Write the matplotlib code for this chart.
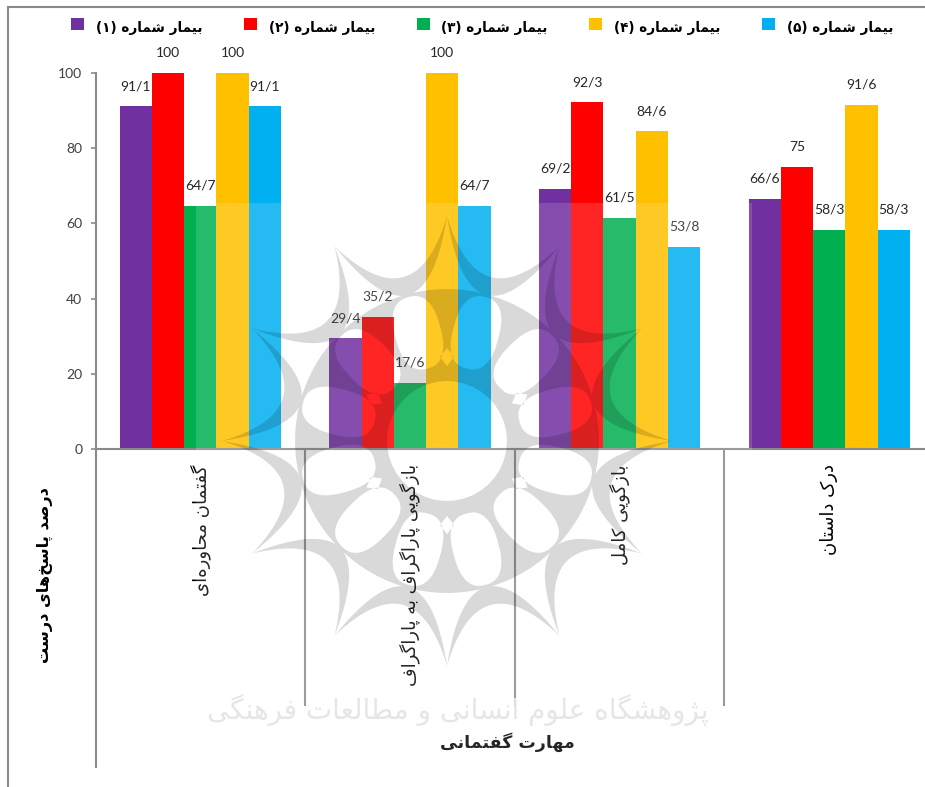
import numpy as np
import matplotlib
matplotlib.use("Agg")
import matplotlib.pyplot as plt
from matplotlib.lines import Line2D
from matplotlib.patches import PathPatch, Rectangle
from matplotlib.path import Path
from matplotlib.transforms import Affine2D

categories = ["گفتمان محاوره‌ای", "بازگویی پاراگراف به پاراگراف", "بازگویی کامل", "درک داستان"]
patients = ["بیمار شماره (۱)", "بیمار شماره (۲)", "بیمار شماره (۳)", "بیمار شماره (۴)", "بیمار شماره (۵)"]
patient_1 = [91.1, 29.4, 69.2, 66.6]
patient_2 = [100, 35.2, 92.3, 75]
patient_3 = [64.7, 17.6, 61.5, 58.3]
patient_4 = [100, 100, 84.6, 91.6]
patient_5 = [91.1, 64.7, 53.8, 58.3]
colors = ["#7030A0", "#FF0000", "#00B050", "#FFC000", "#00B0F0"]
ylabel = "درصد پاسخ‌های درست"
xlabel = "مهارت گفتمانی"
watermark = "پژوهشگاه علوم انسانی و مطالعات فرهنگی"

GREY = "#8A8A8A"

# iso, final, initial, medial
FORMS = {
    "ا": "\uFE8D\uFE8E", "د": "\uFEA9\uFEAA", "ر": "\uFEAD\uFEAE", "ز": "\uFEAF\uFEB0",
    "ژ": "\uFB8A\uFB8B", "و": "\uFEED\uFEEE",
    "ب": "\uFE8F\uFE90\uFE91\uFE92", "پ": "\uFB56\uFB57\uFB58\uFB59",
    "ت": "\uFE95\uFE96\uFE97\uFE98", "ح": "\uFEA1\uFEA2\uFEA3\uFEA4",
    "خ": "\uFEA5\uFEA6\uFEA7\uFEA8", "س": "\uFEB1\uFEB2\uFEB3\uFEB4",
    "ش": "\uFEB5\uFEB6\uFEB7\uFEB8", "ص": "\uFEB9\uFEBA\uFEBB\uFEBC",
    "ط": "\uFEC1\uFEC2\uFEC3\uFEC4", "ع": "\uFEC9\uFECA\uFECB\uFECC",
    "ف": "\uFED1\uFED2\uFED3\uFED4", "ک": "\uFB8E\uFB8F\uFB90\uFB91",
    "گ": "\uFB92\uFB93\uFB94\uFB95", "ل": "\uFEDD\uFEDE\uFEDF\uFEE0",
    "م": "\uFEE1\uFEE2\uFEE3\uFEE4", "ن": "\uFEE5\uFEE6\uFEE7\uFEE8",
    "ه": "\uFEE9\uFEEA\uFEEB\uFEEC", "ی": "\uFBFC\uFBFD\uFBFE\uFBFF",
}


# matplotlib does no shaping or bidi, so join the letters and reverse by hand
def fa(text):
    out = []
    for i, ch in enumerate(text):
        if ch == "\u200c":
            continue
        if ch not in FORMS:
            out.append({"(": ")", ")": "("}.get(ch, ch))
            continue
        prev_joins = i > 0 and text[i - 1] in FORMS and len(FORMS[text[i - 1]]) == 4
        next_joins = i + 1 < len(text) and text[i + 1] in FORMS
        forms = FORMS[ch]
        if len(forms) == 2:
            out.append(forms[1] if prev_joins else forms[0])
        elif prev_joins and next_joins:
            out.append(forms[3])
        elif prev_joins:
            out.append(forms[1])
        elif next_joins:
            out.append(forms[2])
        else:
            out.append(forms[0])
    return "".join(reversed(out))


def polygon(points):
    points = np.asarray(points)
    codes = [Path.MOVETO] + [Path.LINETO] * (len(points) - 2) + [Path.CLOSEPOLY]
    return Path(points, codes)


def crescent(center, radius, a0, a1, r_in, r_out):
    # two bezier curves between neighbouring tips of the rosette
    t = np.linspace(0, 1, 30)[:, None]
    tip0 = radius * np.array([np.cos(a0), np.sin(a0)])
    tip1 = radius * np.array([np.cos(a1), np.sin(a1)])
    mid = np.array([np.cos((a0 + a1) / 2), np.sin((a0 + a1) / 2)])
    inner = (1 - t) ** 2 * tip0 + 2 * t * (1 - t) * r_in * mid + t ** 2 * tip1
    outer = (1 - t) ** 2 * tip1 + 2 * t * (1 - t) * r_out * mid + t ** 2 * tip0
    return polygon(np.vstack([inner, outer]) + center)


def hole(center, dist, angle, radial, tangent, power=1.0):
    # opening in the lattice, long axis pointing at the centre; winds against the disc
    th = np.linspace(0, 2 * np.pi, 40)
    u = np.sign(np.cos(th)) * np.abs(np.cos(th)) ** power * radial
    v = np.sign(np.sin(th)) * np.abs(np.sin(th)) ** power * tangent
    c, s = np.cos(angle), np.sin(angle)
    return polygon(np.c_[dist * c + u * c - v * s, dist * s + u * s + v * c] + center)


def add_watermark(fig):
    to_px = Affine2D().scale(1, -1).translate(0, 787)
    fig.add_artist(Rectangle((196, 203), 556, 584, transform=to_px,
                             facecolor="white", edgecolor="none", alpha=0.15))
    center = np.array([447.0, 441.0])
    step = np.pi / 6
    th = np.linspace(0, 2 * np.pi, 90)
    disc = np.c_[np.cos(-th), np.sin(-th)] * 152
    parts = [polygon(disc + center), hole(center, 0, 0, 60, 60)]
    for k in range(12):
        a = k * step
        parts.append(crescent(center, 225, a, a + step, 85, 122))
        parts.append(hole(center, 112, a + step / 2, 37, 23, power=0.8))
        if k % 2 == 1:
            parts.append(hole(center, 84, a, 9, 7, power=2.0))
    fig.add_artist(PathPatch(Path.make_compound_path(*parts), transform=to_px,
                             facecolor="black", edgecolor="none", alpha=0.15))
    fig.add_artist(plt.Text(458, 710, fa(watermark), transform=to_px, fontsize=20,
                            color="#E6E6E6", ha="center", va="center",
                            fontfamily="DejaVu Sans"))


values = [patient_1, patient_2, patient_3, patient_4, patient_5]

fig = plt.figure(figsize=(9.25, 7.87), dpi=100)
# axis runs past the right edge of the picture, as in the cropped original
ax = fig.add_axes([95.5 / 925, 1 - 449 / 787, 838.5 / 925, 376 / 787])

x = np.arange(len(categories))
width = 1 / 6.5
for i, series in enumerate(values):
    bars = ax.bar(x + (i - 2) * width, series, width, color=colors[i], linewidth=0)
    labels = [f"{v:g}".replace(".", "/") for v in series]
    ax.bar_label(bars, labels=labels, padding=10, fontsize=10, family="Lato", color="#262626")

ax.set_xlim(-0.5, 3.5)
ax.set_ylim(0, 100)
ax.set_yticks([0, 20, 40, 60, 80, 100])
ax.tick_params(axis="y", length=3.6, width=1.2, color=GREY, pad=6, labelsize=10, labelcolor="#404040")
for lab in ax.get_yticklabels():
    lab.set_family("Lato")

ax.set_xticks(x)
ax.set_xticklabels([fa(c) for c in categories], rotation=90, fontsize=13, family="DejaVu Sans",
                   color="black", va="top", ha="center")
ax.tick_params(axis="x", which="major", length=0, pad=11)
ax.set_xticks([0.5, 1.5, 2.5], minor=True)
ax.tick_params(axis="x", which="minor", length=185, width=1.5, color=GREY)

for side in ["top", "right"]:
    ax.spines[side].set_visible(False)
for side in ["left", "bottom"]:
    ax.spines[side].set_color(GREY)
    ax.spines[side].set_linewidth(1.5)
ax.spines["left"].set_bounds(-84.6, 100)

ax.set_ylabel(fa(ylabel), rotation=90, fontsize=11.6, fontweight="bold", family="DejaVu Sans",
              va="center", ha="center")
ax.yaxis.set_label_coords(-0.06, -0.335)
ax.set_xlabel(fa(xlabel), fontsize=12.5, fontweight="bold", family="DejaVu Sans", va="center", ha="center")
ax.xaxis.set_label_coords(412 / 838.5, -293 / 376)

# legend by hand: swatches sit higher than their text in the original
to_px = Affine2D().scale(1, -1).translate(0, 787)
for i, name in enumerate(patients):
    left = 71 + i * 172.8
    fig.add_artist(Rectangle((left, 18), 13, 12, transform=to_px, facecolor=colors[i], edgecolor="none"))
    fig.add_artist(plt.Text(left + 78, 28, fa(name), transform=to_px, fontsize=9.8, fontweight="bold",
                            fontfamily="DejaVu Sans", ha="center", va="center"))

# frame of the pasted chart: only top and left show
fig.add_artist(Line2D([8, 925], [6.5, 6.5], transform=to_px, color=GREY, linewidth=1.5))
fig.add_artist(Line2D([8, 8], [6.5, 787], transform=to_px, color=GREY, linewidth=1.5))

add_watermark(fig)

fig.savefig("out.png", dpi=100)
